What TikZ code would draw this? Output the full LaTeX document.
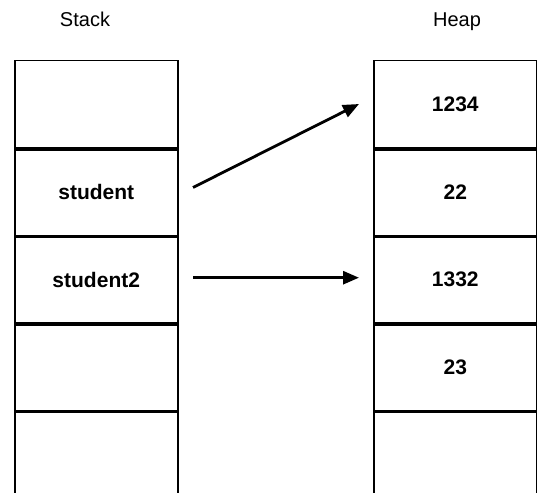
\documentclass[tikz,border=0pt]{standalone}
\usepackage{fontspec}
\setmainfont{Liberation Sans}
\usetikzlibrary{arrows.meta}
\begin{document}
\begin{tikzpicture}[x=1pt,y=-1pt,
  cell/.style={draw=black,line width=1.5pt,minimum width=163pt,minimum height=87.5pt,inner sep=0pt,anchor=north west,font=\bfseries\fontsize{21}{24}\selectfont},
  sep/.style={line width=3.2pt},
  title/.style={font=\fontsize{20}{24}\selectfont,anchor=base,inner sep=0pt},
  ptr/.style={line width=2.8pt,-{Triangle[length=16pt,width=13pt]}}]
\useasboundingbox (0,0) rectangle (537,492);
\begin{scope}
\clip (0,0) rectangle (537,492);
\node[title] (stacklbl) at (85,26.5) {Stack};
\node[title] (heaplbl) at (457,26.5) {Heap};
\node[cell] (s1) at (14,60) {};
\node[cell] (s2) at (14,147.5) {student};
\node[cell] (s3) at (14,235) {student2};
\node[cell] (s4) at (14,322.5) {};
\node[cell] (s5) at (14,410) {};
\node[cell] (h1) at (373,60) {1234};
\node[cell] (h2) at (373,147.5) {22};
\node[cell] (h3) at (373,235) {1332};
\node[cell] (h4) at (373,322.5) {23};
\node[cell] (h5) at (373,410) {};
\foreach \n in {s1,s2,s3,s4,h1,h2,h3,h4}{
  \draw[sep] (\n.south west) -- (\n.south east);
}
\end{scope}
\coordinate (a1) at (193,187.5);
\coordinate (b1) at (359,104);
\coordinate (a2) at (193,277.7);
\coordinate (b2) at (359,277.7);
\draw[ptr] (a1) -- (b1);
\draw[ptr] (a2) -- (b2);
\end{tikzpicture}
\end{document}
